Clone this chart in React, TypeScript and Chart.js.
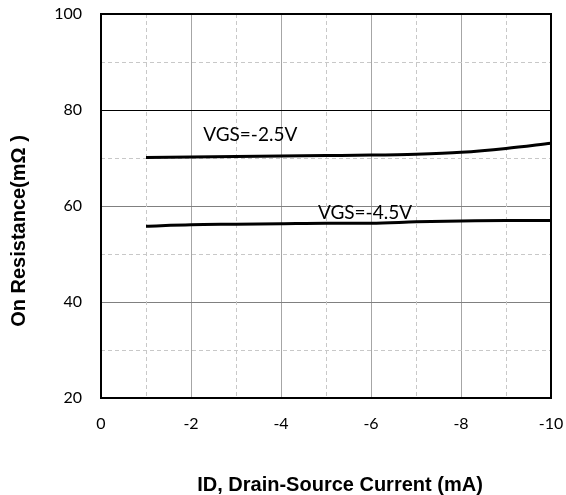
import React, { useEffect, useRef } from "react";
import { Chart, registerables } from "chart.js";

Chart.register(...registerables);

const currents = [-1, -2, -3, -4, -5, -6, -7, -8, -9, -10];
const rdsVgs25 = [70.1, 70.2, 70.3, 70.4, 70.5, 70.6, 70.8, 71.2, 72.0, 73.1];
const rdsVgs45 = [55.8, 56.1, 56.2, 56.3, 56.4, 56.4, 56.7, 56.9, 57.0, 57.0];
const seriesLabels = ["VGS=-2.5V", "VGS=-4.5V"];
const labelAnchors = [
  { x: -2.27, y: 74.8 },
  { x: -4.82, y: 58.6 },
];
const xMinorTicks = [-1, -3, -5, -7, -9];
const yMinorTicks = [30, 50, 70, 90];
const xTitle = "ID, Drain-Source Current (mA)";
const yTitle = "On Resistance(mΩ )";

export default function App() {
  const ref = useRef<HTMLCanvasElement | null>(null);

  useEffect(() => {
    if (!ref.current) return;
    const decor = {
      id: "decor",
      beforeDatasetsDraw(chart: any) {
        const { ctx, chartArea: a, scales } = chart;
        ctx.save();
        ctx.strokeStyle = "#c8c8c8";
        ctx.lineWidth = 1;
        ctx.setLineDash([4, 3]);
        for (const v of xMinorTicks) {
          const px = Math.round(scales.x.getPixelForValue(v)) + 0.5;
          ctx.beginPath();
          ctx.moveTo(px, a.top);
          ctx.lineTo(px, a.bottom);
          ctx.stroke();
        }
        for (const v of yMinorTicks) {
          const py = Math.round(scales.y.getPixelForValue(v)) + 0.5;
          ctx.beginPath();
          ctx.moveTo(a.left, py);
          ctx.lineTo(a.right, py);
          ctx.stroke();
        }
        ctx.restore();
      },
      afterDraw(chart: any) {
        const { ctx, chartArea: a, scales } = chart;
        ctx.save();
        ctx.strokeStyle = "#000";
        ctx.lineWidth = 2;
        ctx.setLineDash([]);
        ctx.strokeRect(a.left, a.top, a.right - a.left, a.bottom - a.top);
        ctx.fillStyle = "#000";
        ctx.font = "19px Lato";
        ctx.textAlign = "left";
        ctx.textBaseline = "middle";
        labelAnchors.forEach((p, i) => {
          ctx.fillText(seriesLabels[i], scales.x.getPixelForValue(p.x), scales.y.getPixelForValue(p.y));
        });
        ctx.font = "bold 20px 'Liberation Sans'";
        ctx.textAlign = "center";
        ctx.fillText(xTitle, (a.left + a.right) / 2 + 14, 485);
        ctx.translate(19, (a.top + a.bottom) / 2 + 25);
        ctx.rotate(-Math.PI / 2);
        ctx.fillText(yTitle, 0, 0);
        ctx.restore();
      },
    };

    const zeroPad = (s: any) => {
      s.paddingTop = 0;
      s.paddingBottom = 0;
      s.paddingLeft = 0;
      s.paddingRight = 0;
    };

    const chart = new Chart(ref.current, {
      type: "line",
      data: {
        datasets: [
          {
            label: seriesLabels[0],
            data: currents.map((x, i) => ({ x, y: rdsVgs25[i] })),
            borderColor: "#000",
            borderWidth: 3,
            pointRadius: 0,
            cubicInterpolationMode: "monotone",
            fill: false,
          },
          {
            label: seriesLabels[1],
            data: currents.map((x, i) => ({ x, y: rdsVgs45[i] })),
            borderColor: "#000",
            borderWidth: 3,
            pointRadius: 0,
            cubicInterpolationMode: "monotone",
            fill: false,
          },
        ],
      },
      options: {
        responsive: false,
        animation: false,
        layout: { padding: { left: 0, top: 14, right: 15, bottom: 0 } },
        plugins: { legend: { display: false }, tooltip: { enabled: false } },
        scales: {
          x: {
            type: "linear",
            reverse: true,
            min: -10,
            max: 0,
            ticks: {
              stepSize: 2,
              padding: 16,
              color: "#000",
              font: { family: "Lato", size: 16 },
              maxRotation: 0,
            },
            grid: { color: "#a6a6a6", lineWidth: 1, drawTicks: false },
            border: { color: "#000", width: 2 },
            afterFit: (s: any) => {
              s.height = 97;
              zeroPad(s);
            },
          },
          y: {
            min: 20,
            max: 100,
            ticks: {
              stepSize: 20,
              padding: 19,
              color: "#000",
              font: { family: "Lato", size: 16 },
            },
            grid: {
              color: (c: any) => (c.tick && c.tick.value === 80 ? "#000" : "#808080"),
              lineWidth: 1,
              drawTicks: false,
            },
            border: { color: "#000", width: 2 },
            afterFit: (s: any) => {
              s.width = 101;
              zeroPad(s);
            },
          },
        },
      },
      plugins: [decor],
    });
    return () => chart.destroy();
  }, []);

  return (
    <div style={{ position: "absolute", left: 0, top: 0, width: 566, height: 495, background: "#fff" }}>
      <canvas ref={ref} width={566} height={495} />
    </div>
  );
}
